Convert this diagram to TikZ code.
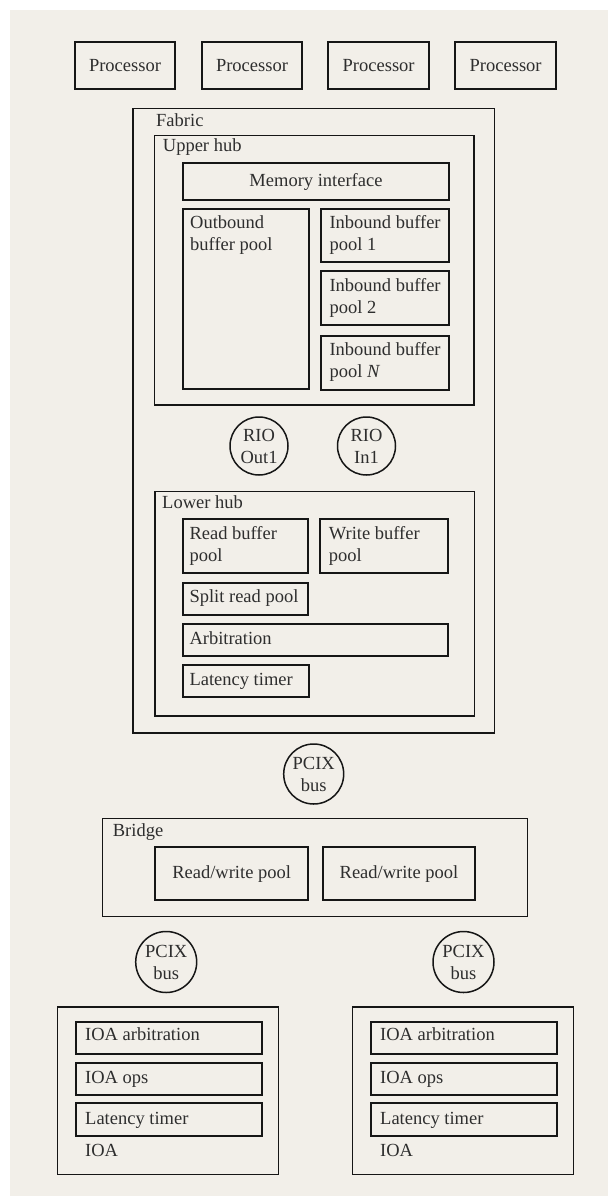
\documentclass[tikz,border=0pt]{standalone}
\usepackage{fontspec}
\setmainfont{Liberation Serif}
\definecolor{paper}{HTML}{F2EFE9}
\definecolor{ink}{HTML}{161616}
\definecolor{txt}{HTML}{2E2E2E}

% box from (x1,y1) to (x2,y2), y measured downwards
\newcommand\blk[7]{\node[#1, minimum width={#5-#3}, minimum height={#6-#4}] (#2) at (#3,#4) {#7};}
\newcommand\twolines[2]{\begin{tabular}[t]{@{}l@{}}#1\\#2\end{tabular}}

\begin{document}
\begin{tikzpicture}[x=1pt,y=-1pt,
  every node/.style={font=\fontsize{18.5}{22}\selectfont, text=txt},
  outerbox/.style={draw=ink, line width=1.3pt, inner sep=0pt, anchor=north west},
  innerbox/.style={draw=ink, line width=2pt, inner sep=0pt, anchor=north west},
  lbl/.style={inner sep=0pt, anchor=base west},
  bus/.style={circle, draw=ink, line width=1.5pt, inner sep=0pt, align=center}]

\useasboundingbox (0,0) rectangle (608,1196);
\fill[paper] (10,10) rectangle (608,1196);

% processors
\blk{innerbox}{p1}{73.7}{40.7}{174.3}{88.3}{Processor}
\blk{innerbox}{p2}{200.7}{40.7}{301.3}{88.3}{Processor}
\blk{innerbox}{p3}{327.3}{40.7}{428}{88.3}{Processor}
\blk{innerbox}{p4}{454.3}{40.7}{555}{88.3}{Processor}

% fabric
\blk{outerbox}{fabric}{132.3}{108}{494}{732.3}{}
\node[lbl] (fabricT) at (156,126.7) {Fabric};

% upper hub
\blk{outerbox}{upper}{154}{134.7}{473.3}{404.3}{}
\node[lbl] (upperT) at (162.7,151.7) {Upper hub};
\blk{innerbox}{mem}{182.3}{162.3}{447.7}{198.7}{Memory interface}
\blk{innerbox}{outb}{182.3}{207.7}{308}{388.3}{}
\node[lbl] (outbT) at (190,228.5) {\twolines{Outbound}{buffer pool}};
\blk{innerbox}{inb1}{319.5}{207.7}{447.7}{261}{}
\node[lbl] (inb1T) at (329.3,228.5) {\twolines{Inbound buffer}{pool 1}};
\blk{innerbox}{inb2}{319.5}{270}{447.7}{323.7}{}
\node[lbl] (inb2T) at (329.3,291) {\twolines{Inbound buffer}{pool 2}};
\blk{innerbox}{inbn}{319.5}{334.7}{447.7}{388.7}{}
\node[lbl] (inbnT) at (329.3,355.7) {\twolines{Inbound buffer}{pool \textit{N}}};

% RIO ports
\node[bus, minimum size=58pt] (rioout) at (259,446) {RIO\\Out1};
\node[bus, minimum size=58pt] (rioin) at (366.5,446) {RIO\\In1};

% lower hub
\blk{outerbox}{lower}{154.3}{490.7}{474}{715.3}{}
\node[lbl] (lowerT) at (162,508.7) {Lower hub};
\blk{innerbox}{rbp}{181.7}{518.3}{307.3}{572.3}{}
\node[lbl] (rbpT) at (189.3,539.3) {\twolines{Read buffer}{pool}};
\blk{innerbox}{wbp}{318.7}{518.3}{447.3}{572.3}{}
\node[lbl] (wbpT) at (328.7,539.3) {\twolines{Write buffer}{pool}};
\blk{innerbox}{srp}{181.7}{581.7}{307.3}{614}{}
\node[lbl] (srpT) at (189.3,602.7) {Split read pool};
\blk{innerbox}{arb}{181.7}{622.7}{447.3}{655}{}
\node[lbl] (arbT) at (189.3,644) {Arbitration};
\blk{innerbox}{lat}{181.7}{663.7}{308}{696.3}{}
\node[lbl] (latT) at (189.3,685.3) {Latency timer};

% PCIX bus to bridge
\node[bus, minimum size=60pt] (pcix) at (313.7,774) {PCIX\\bus};

% bridge
\blk{outerbox}{bridge}{101.7}{817.7}{526.5}{916}{}
\node[lbl] (bridgeT) at (112.7,836) {Bridge};
\blk{innerbox}{rw1}{154}{846}{307.3}{899.3}{Read/write pool}
\blk{innerbox}{rw2}{321.7}{846}{474.3}{899.3}{Read/write pool}

% lower PCIX buses
\node[bus, minimum size=61pt] (pcixl) at (166.2,962) {PCIX\\bus};
\node[bus, minimum size=61pt] (pcixr) at (463.5,962) {PCIX\\bus};

% IOA, left
\blk{outerbox}{ioal}{56.7}{1006.3}{278}{1174}{}
\blk{innerbox}{ioal1}{75}{1020.7}{261}{1053.3}{}
\node[lbl] (ioal1T) at (85,1040.7) {IOA arbitration};
\blk{innerbox}{ioal2}{75}{1062}{261}{1094}{}
\node[lbl] (ioal2T) at (85,1083.3) {IOA ops};
\blk{innerbox}{ioal3}{75}{1102.3}{261}{1135}{}
\node[lbl] (ioal3T) at (85,1124) {Latency timer};
\node[lbl] (ioalT) at (85,1156.7) {IOA};

% IOA, right
\blk{outerbox}{ioar}{352}{1006.3}{573}{1174}{}
\blk{innerbox}{ioar1}{369.7}{1020.7}{555.7}{1053.3}{}
\node[lbl] (ioar1T) at (380,1040.7) {IOA arbitration};
\blk{innerbox}{ioar2}{369.7}{1062}{555.7}{1094}{}
\node[lbl] (ioar2T) at (380,1083.3) {IOA ops};
\blk{innerbox}{ioar3}{369.7}{1102.3}{555.7}{1135}{}
\node[lbl] (ioar3T) at (380,1124) {Latency timer};
\node[lbl] (ioarT) at (380,1156.7) {IOA};
\end{tikzpicture}
\end{document}
